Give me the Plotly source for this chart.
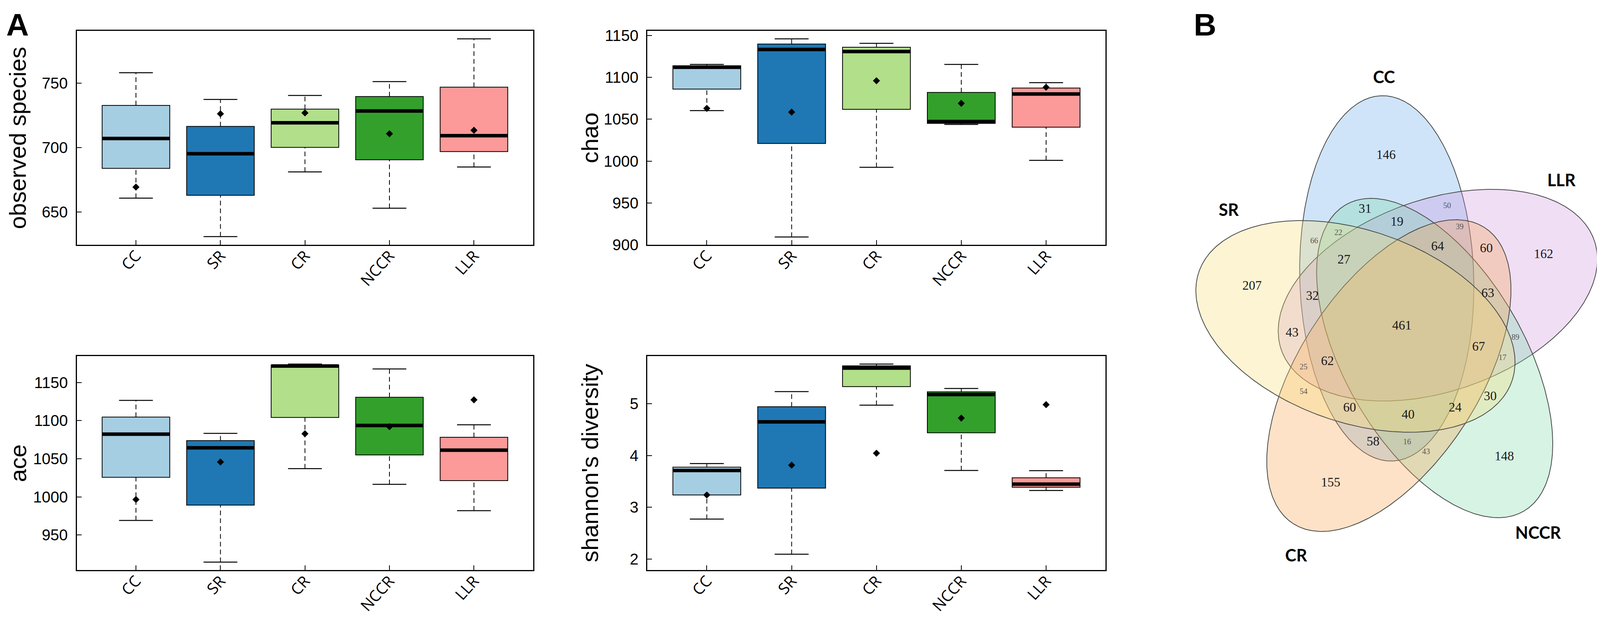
import numpy as np
import plotly.graph_objects as go

# reference picture is 4562 x 1588; the browser viewport is 4096 wide with an 8px body margin,
# so the page is drawn at 4080 x 1572 and every reference pixel position is mapped onto it
REF_W, REF_H = 4562, 1588
W, H = 4080, 1572
SX = 4096 / REF_W


def fx(px):
    return (px * SX - 8) / W


def fy(py):
    return 1 - (py - 8) / H


groups = ["CC", "SR", "CR", "NCCR", "LLR"]
box_colors = ["#A6CEE3", "#1F78B4", "#B2DF8A", "#33A02C", "#FB9A99"]

# observed species
obs_lo = [660.7, 630.9, 681.1, 652.9, 684.9]
obs_q1 = [683.8, 662.9, 700.1, 690.5, 696.9]
obs_med = [707.0, 695.2, 719.2, 728.4, 709.2]
obs_q3 = [732.7, 716.4, 729.8, 739.6, 746.9]
obs_hi = [758.1, 737.3, 740.4, 751.2, 784.4]
obs_mean = [669.3, 726.2, 726.9, 710.7, 713.4]

# chao
chao_lo = [1060.3, 909.3, 992.6, 1043.8, 1000.9]
chao_q1 = [1086.0, 1021.0, 1061.9, 1045.1, 1040.5]
chao_med = [1112.1, 1133.3, 1130.9, 1047.3, 1080.2]
chao_q3 = [1113.9, 1139.8, 1136.0, 1082.0, 1087.3]
chao_hi = [1115.5, 1146.0, 1140.7, 1115.5, 1093.7]
chao_mean = [1063.0, 1058.5, 1096.0, 1069.0, 1088.2]

# ace
ace_lo = [969.0, 914.4, 1037.0, 1016.4, 981.9]
ace_q1 = [1025.6, 989.1, 1104.2, 1055.0, 1021.3]
ace_med = [1082.3, 1064.3, 1171.6, 1093.6, 1061.2]
ace_q3 = [1104.7, 1073.8, 1172.9, 1130.7, 1078.2]
ace_hi = [1126.6, 1083.3, 1174.2, 1167.8, 1094.6]
ace_mean = [996.5, 1045.7, 1082.8, 1092.1, 1127.3]

# shannon's diversity
sh_lo = [2.773, 2.095, 4.973, 3.712, 3.326]
sh_q1 = [3.239, 3.371, 5.330, 4.439, 3.387]
sh_med = [3.712, 4.651, 5.689, 5.178, 3.448]
sh_q3 = [3.776, 4.943, 5.731, 5.231, 3.570]
sh_hi = [3.845, 5.235, 5.765, 5.295, 3.708]
sh_mean = [3.239, 3.814, 4.045, 4.723, 4.982]

# venn region counts (B)
venn_sets = ["CC", "LLR", "NCCR", "CR", "SR"]
venn_counts = [146, 31, 19, 50, 39, 22, 66, 27, 64, 60, 162, 63, 207, 32, 43, 461,
               89, 67, 17, 62, 25, 54, 30, 60, 40, 24, 58, 16, 43, 148, 155]

# ---- layout geometry (reference pixels) ----
panels = [
    dict(title="observed species", lo=obs_lo, q1=obs_q1, med=obs_med, q3=obs_q3, hi=obs_hi,
         mean=obs_mean, rng=[624.5, 790.6], tv=[650, 700, 750], px=(219, 1520), py=(79, 627), tx=51),
    dict(title="chao", lo=chao_lo, q1=chao_q1, med=chao_med, q3=chao_q3, hi=chao_hi,
         mean=chao_mean, rng=[900, 1155.6], tv=[900, 950, 1000, 1050, 1100, 1150],
         px=(1846, 3152), py=(79, 627), tx=1683),
    dict(title="ace", lo=ace_lo, q1=ace_q1, med=ace_med, q3=ace_q3, hi=ace_hi,
         mean=ace_mean, rng=[904, 1184.7], tv=[950, 1000, 1050, 1100, 1150],
         px=(219, 1520), py=(912, 1460), tx=51),
    dict(title="shannon's diversity", lo=sh_lo, q1=sh_q1, med=sh_med, q3=sh_q3, hi=sh_hi,
         mean=sh_mean, rng=[1.79, 5.92], tv=[2, 3, 4, 5], px=(1846, 3152), py=(912, 1460), tx=1682),
]

venn_pos = [(3952, 399), (3892, 537), (3983, 570), (4126, 528), (4162, 582), (3816, 597),
            (3747, 618), (3832, 667), (4099, 633), (4238, 638), (4401, 653), (4242, 753),
            (3570, 734), (3742, 760), (3684, 854), (3997, 836), (4321, 865), (4216, 890),
            (4284, 917), (3785, 927), (3717, 941), (3717, 1004), (4249, 1017), (3848, 1046),
            (4015, 1064), (4149, 1046), (3915, 1133), (4012, 1133), (4066, 1158), (4289, 1171),
            (3794, 1238)]
venn_small = {3, 4, 5, 6, 16, 18, 20, 21, 27, 28}

# ellipse centre x, centre y, major-axis angle (deg), fill colour
ellipses = {
    "CC": (3954, 713, -92, "rgba(95,165,232,0.3)"),
    "LLR": (4099.5, 756, -16, "rgba(205,145,222,0.3)"),
    "NCCR": (4090.6, 917, 55, "rgba(118,215,165,0.3)"),
    "CR": (3960, 962, 128, "rgba(248,158,68,0.3)"),
    "SR": (3864.7, 836, 196, "rgba(248,218,112,0.3)"),
}
ell_a, ell_b = 468, 248
set_label_pos = {"CC": (3946, 196), "LLR": (4452, 460), "SR": (3504, 536),
                 "NCCR": (4385, 1363), "CR": (3696, 1421)}

fig = go.Figure()
layout = dict(width=W, height=H, autosize=False, margin=dict(l=0, r=0, t=0, b=0, pad=0),
              paper_bgcolor="white", plot_bgcolor="white", showlegend=False)
annotations = []

pos = list(range(len(groups)))
for k, p in enumerate(panels, start=1):
    xa = "x" if k == 1 else f"x{k}"
    ya = "y" if k == 1 else f"y{k}"

    wx, wy, cx, cy, mx, my = [], [], [], [], [], []
    for i in pos:
        wx += [i, i, None, i, i, None]
        wy += [p["q3"][i], p["hi"][i], None, p["lo"][i], p["q1"][i], None]
        for v in (p["lo"][i], p["hi"][i]):
            cx += [i - 0.2, i + 0.2, None]
            cy += [v, v, None]
        mx += [i - 0.4, i + 0.4, None]
        my += [p["med"][i], p["med"][i], None]

    fig.add_trace(go.Bar(x=pos, y=[q3 - q1 for q1, q3 in zip(p["q1"], p["q3"])], base=p["q1"],
                         width=0.8, marker=dict(color=box_colors, line=dict(color="black", width=2)),
                         xaxis=xa, yaxis=ya, hoverinfo="skip"))
    fig.add_trace(go.Scatter(x=wx, y=wy, mode="lines", xaxis=xa, yaxis=ya, hoverinfo="skip",
                             line=dict(color="black", width=2, dash="12px,8px")))
    fig.add_trace(go.Scatter(x=cx, y=cy, mode="lines", xaxis=xa, yaxis=ya, hoverinfo="skip",
                             line=dict(color="black", width=2.5)))
    fig.add_trace(go.Scatter(x=mx, y=my, mode="lines", xaxis=xa, yaxis=ya, hoverinfo="skip",
                             line=dict(color="black", width=9)))
    fig.add_trace(go.Scatter(x=pos, y=p["mean"], mode="markers", xaxis=xa, yaxis=ya,
                             marker=dict(symbol="diamond", size=14, color="black")))

    x0, x1 = p["px"]
    y0, y1 = p["py"]
    common = dict(showline=True, mirror=True, linecolor="black", linewidth=3, showgrid=False,
                  zeroline=False, ticks="inside", ticklen=12, tickwidth=2, tickcolor="black",
                  automargin=False)
    layout["xaxis" if k == 1 else f"xaxis{k}"] = dict(
        domain=[fx(x0), fx(x1)], range=[-0.7, 4.7], tickvals=pos, ticktext=groups,
        tickangle=-48, anchor=ya, ticklabelstandoff=-14,
        tickfont=dict(family="Open Sans", size=40, color="black"), **common)
    layout["yaxis" if k == 1 else f"yaxis{k}"] = dict(
        domain=[fy(y1), fy(y0)], range=p["rng"], tickvals=p["tv"], anchor=xa,
        ticklabelstandoff=12,
        tickfont=dict(family="Liberation Sans", size=40, color="black"), **common)
    annotations.append(dict(text=p["title"], x=fx(p["tx"]), y=fy((y0 + y1) / 2),
                            xref="paper", yref="paper", showarrow=False, textangle=-90,
                            xanchor="center", yanchor="middle",
                            font=dict(family="Liberation Sans", size=60, color="black")))

# ---- Venn diagram (B) ----
t = np.linspace(0, 2 * np.pi, 361)
for name in venn_sets:
    ecx, ecy, ang, fill = ellipses[name]
    th = np.radians(ang)
    ex = ecx + ell_a * np.cos(t) * np.cos(th) - ell_b * np.sin(t) * np.sin(th)
    ey = ecy + ell_a * np.cos(t) * np.sin(th) + ell_b * np.sin(t) * np.cos(th)
    fig.add_trace(go.Scatter(x=ex, y=ey, mode="lines", fill="toself", fillcolor=fill,
                             line=dict(color="#4a4a4a", width=2), xaxis="x5", yaxis="y5",
                             hoverinfo="skip"))

big = [i for i in range(len(venn_counts)) if i not in venn_small]
small = sorted(venn_small)
fig.add_trace(go.Scatter(x=[venn_pos[i][0] for i in big], y=[venn_pos[i][1] for i in big],
                         text=[str(venn_counts[i]) for i in big], mode="text",
                         textfont=dict(family="Liberation Serif", size=33, color="#1a1a1a"),
                         xaxis="x5", yaxis="y5", hoverinfo="skip"))
fig.add_trace(go.Scatter(x=[venn_pos[i][0] for i in small], y=[venn_pos[i][1] for i in small],
                         text=[str(venn_counts[i]) for i in small], mode="text",
                         textfont=dict(family="Liberation Serif", size=20, color="#555555"),
                         xaxis="x5", yaxis="y5", hoverinfo="skip"))

venn_x_end = (W + 8) / SX
layout["xaxis5"] = dict(domain=[fx(3162), 1], range=[3162, venn_x_end], visible=False,
                        anchor="y5", automargin=False)
layout["yaxis5"] = dict(domain=[0, 1], range=[8 + H, 8], visible=False, anchor="x5",
                        automargin=False)

for name in venn_sets:
    lx, ly = set_label_pos[name]
    annotations.append(dict(text=f"<b>{name}</b>", x=lx, y=ly, xref="x5", yref="y5",
                            showarrow=False, xanchor="center", yanchor="middle",
                            font=dict(family="Lato", size=43, color="black")))

for lab, lx, ly in [("A", 50, 64), ("B", 3436, 64)]:
    annotations.append(dict(text=f"<b>{lab}</b>", x=fx(lx), y=fy(ly), xref="paper",
                            yref="paper", showarrow=False, xanchor="center", yanchor="middle",
                            font=dict(family="Liberation Sans", size=80, color="black")))

layout["annotations"] = annotations
fig.update_layout(**layout)
fig.write_html("out.html")
